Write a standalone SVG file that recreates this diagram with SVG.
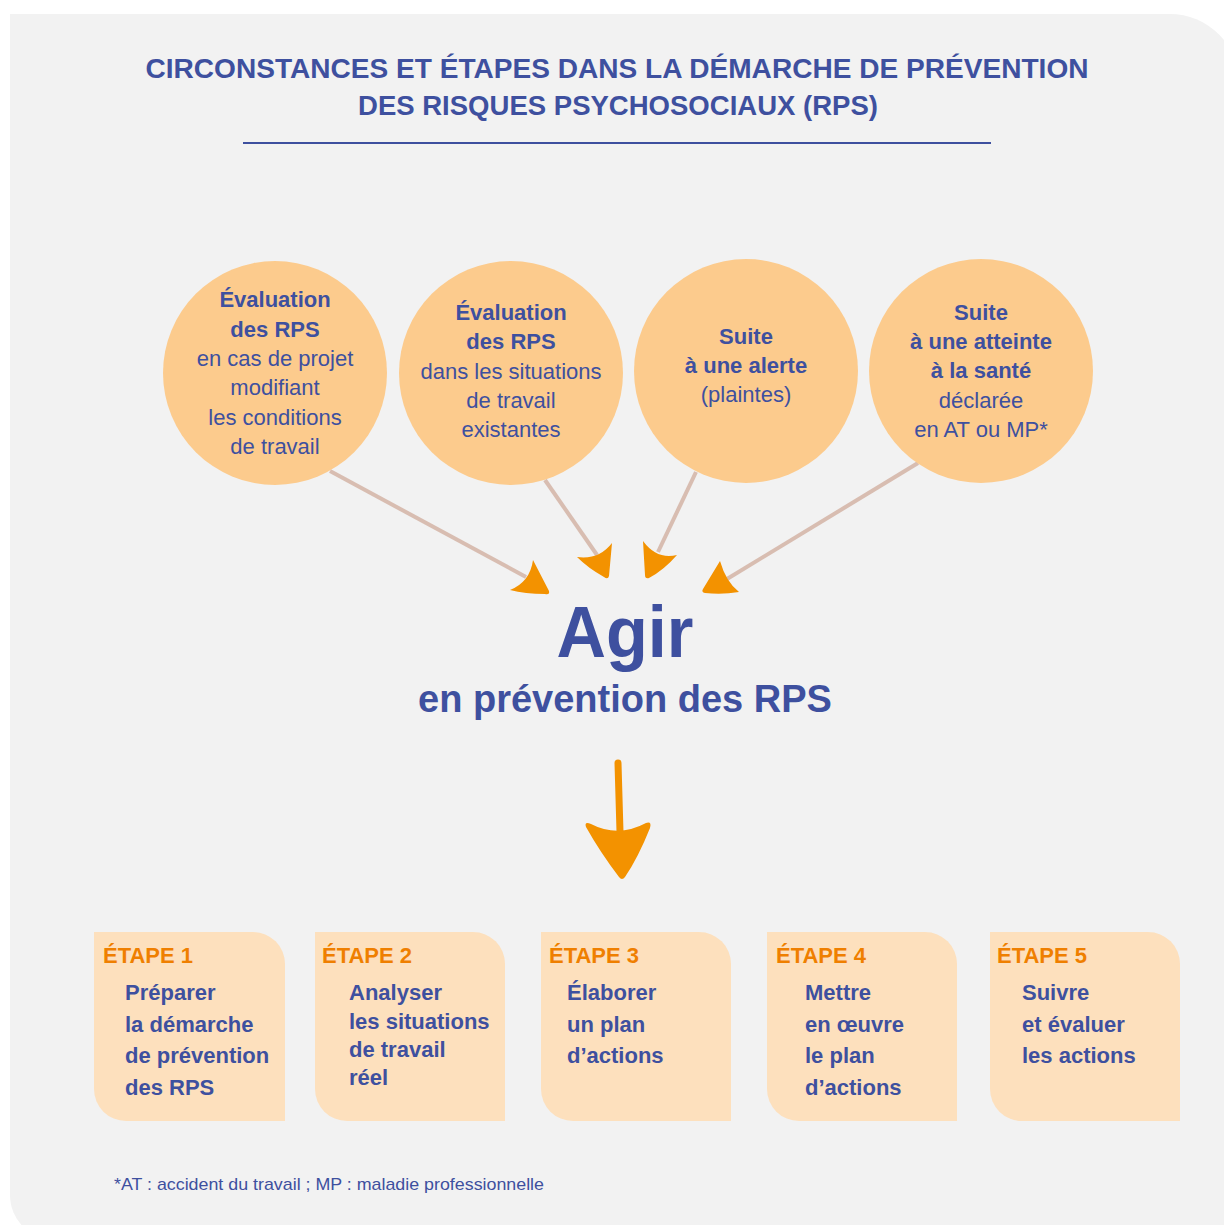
<svg xmlns="http://www.w3.org/2000/svg" width="1224" height="1225" viewBox="0 0 1224 1225">
<defs>
<style>
.t{font-family:"Liberation Sans",Arial,sans-serif;fill:#3e509f}
.title{font-size:27.5px;font-weight:bold}
.c{font-size:22px;text-anchor:middle}
.b{font-weight:bold}
.circ{fill:#fccb8d}
.box{fill:#fde0bd}
.etape{font-family:"Liberation Sans",Arial,sans-serif;font-size:22px;font-weight:bold;fill:#ef7f00}
.s{font-size:22px;font-weight:bold}
.ln{stroke:#d8bdb1;stroke-width:4;fill:none}
.ah{fill:#f39200}
</style>
</defs>
<rect width="1224" height="1225" fill="#ffffff"/>
<path d="M10,14 H1170 A69,69 0 0 1 1239,83 V1240 H55 A45,45 0 0 1 10,1195 Z" fill="#f2f2f2"/>

<g id="title">
<text class="t title" x="617" y="78" text-anchor="middle" textLength="943" lengthAdjust="spacingAndGlyphs">CIRCONSTANCES ET ÉTAPES DANS LA DÉMARCHE DE PRÉVENTION</text>
<text class="t title" x="618" y="115" text-anchor="middle" textLength="520" lengthAdjust="spacingAndGlyphs">DES RISQUES PSYCHOSOCIAUX (RPS)</text>
<line x1="243" y1="143" x2="991" y2="143" stroke="#3e509f" stroke-width="2"/>
</g>

<g id="connectors">
<line class="ln" x1="330" y1="471" x2="526" y2="577"/>
<line class="ln" x1="545" y1="480" x2="597" y2="555"/>
<line class="ln" x1="696" y1="472" x2="658" y2="552"/>
<line class="ln" x1="918" y1="463" x2="727" y2="579"/>
<path class="ah" d="M533,560 L549,591 Q550,595 545,594 Q525,594 510,590 Q530,582 533,560 Z"/>
<path class="ah" d="M612,543 L609,576 Q608,580 604,577 Q588,568 577,557 Q599,560 612,543 Z"/>
<path class="ah" d="M643,541 Q657,560 677,555 Q664,570 649,578 Q645,579 645,575 Z"/>
<path class="ah" d="M720,561 Q726,582 739,592 Q722,595 705,593 Q701,592 703,589 Z"/>
<line x1="618" y1="763" x2="620" y2="832" stroke="#f39200" stroke-width="7" stroke-linecap="round"/>
<path class="ah" d="M586,827 Q584,821 591,824 Q618,838 646,823 Q652,821 650,828 Q638,858 625,877 Q622,881 619,877 Q600,852 586,827 Z"/>
</g>

<g id="node1">
<circle class="circ" cx="275" cy="373" r="112"/>
<text class="t c b" x="275" y="307">Évaluation</text>
<text class="t c b" x="275" y="337">des RPS</text>
<text class="t c" x="275" y="366">en cas de projet</text>
<text class="t c" x="275" y="395">modifiant</text>
<text class="t c" x="275" y="425">les conditions</text>
<text class="t c" x="275" y="454">de travail</text>
</g>
<g id="node2">
<circle class="circ" cx="511" cy="373" r="112"/>
<text class="t c b" x="511" y="320">Évaluation</text>
<text class="t c b" x="511" y="349">des RPS</text>
<text class="t c" x="511" y="379">dans les situations</text>
<text class="t c" x="511" y="408">de travail</text>
<text class="t c" x="511" y="437">existantes</text>
</g>
<g id="node3">
<circle class="circ" cx="746" cy="371" r="112"/>
<text class="t c b" x="746" y="344">Suite</text>
<text class="t c b" x="746" y="373">à une alerte</text>
<text class="t c" x="746" y="402">(plaintes)</text>
</g>
<g id="node4">
<circle class="circ" cx="981" cy="371" r="112"/>
<text class="t c b" x="981" y="320">Suite</text>
<text class="t c b" x="981" y="349">à une atteinte</text>
<text class="t c b" x="981" y="378">à la santé</text>
<text class="t c" x="981" y="408">déclarée</text>
<text class="t c" x="981" y="437">en AT ou MP*</text>
</g>

<g id="agir">
<text class="t b" x="625" y="657" font-size="72" text-anchor="middle" textLength="137" lengthAdjust="spacingAndGlyphs">Agir</text>
<text class="t b" x="625" y="712" font-size="38" text-anchor="middle">en prévention des RPS</text>
</g>

<g id="etape1">
<path class="box" d="M94,932 H253 A32,32 0 0 1 285,964 V1121 H126 A32,32 0 0 1 94,1089 Z"/>
<text class="etape" x="103" y="963">ÉTAPE 1</text>
<text class="t s" x="125" y="1000">Préparer</text>
<text class="t s" x="125" y="1032">la démarche</text>
<text class="t s" x="125" y="1063">de prévention</text>
<text class="t s" x="125" y="1095">des RPS</text>
</g>
<g id="etape2">
<path class="box" d="M315,932 H473 A32,32 0 0 1 505,964 V1121 H347 A32,32 0 0 1 315,1089 Z"/>
<text class="etape" x="322" y="963">ÉTAPE 2</text>
<text class="t s" x="349" y="1000">Analyser</text>
<text class="t s" x="349" y="1029">les situations</text>
<text class="t s" x="349" y="1057">de travail</text>
<text class="t s" x="349" y="1085">réel</text>
</g>
<g id="etape3">
<path class="box" d="M541,932 H699 A32,32 0 0 1 731,964 V1121 H573 A32,32 0 0 1 541,1089 Z"/>
<text class="etape" x="549" y="963">ÉTAPE 3</text>
<text class="t s" x="567" y="1000">Élaborer</text>
<text class="t s" x="567" y="1032">un plan</text>
<text class="t s" x="567" y="1063">d’actions</text>
</g>
<g id="etape4">
<path class="box" d="M767,932 H925 A32,32 0 0 1 957,964 V1121 H799 A32,32 0 0 1 767,1089 Z"/>
<text class="etape" x="776" y="963">ÉTAPE 4</text>
<text class="t s" x="805" y="1000">Mettre</text>
<text class="t s" x="805" y="1032">en œuvre</text>
<text class="t s" x="805" y="1063">le plan</text>
<text class="t s" x="805" y="1095">d’actions</text>
</g>
<g id="etape5">
<path class="box" d="M990,932 H1148 A32,32 0 0 1 1180,964 V1121 H1022 A32,32 0 0 1 990,1089 Z"/>
<text class="etape" x="997" y="963">ÉTAPE 5</text>
<text class="t s" x="1022" y="1000">Suivre</text>
<text class="t s" x="1022" y="1032">et évaluer</text>
<text class="t s" x="1022" y="1063">les actions</text>
</g>

<g id="footnote">
<text class="t" x="114" y="1190" font-size="17" textLength="430" lengthAdjust="spacingAndGlyphs">*AT : accident du travail ; MP : maladie professionnelle</text>
</g>
</svg>
